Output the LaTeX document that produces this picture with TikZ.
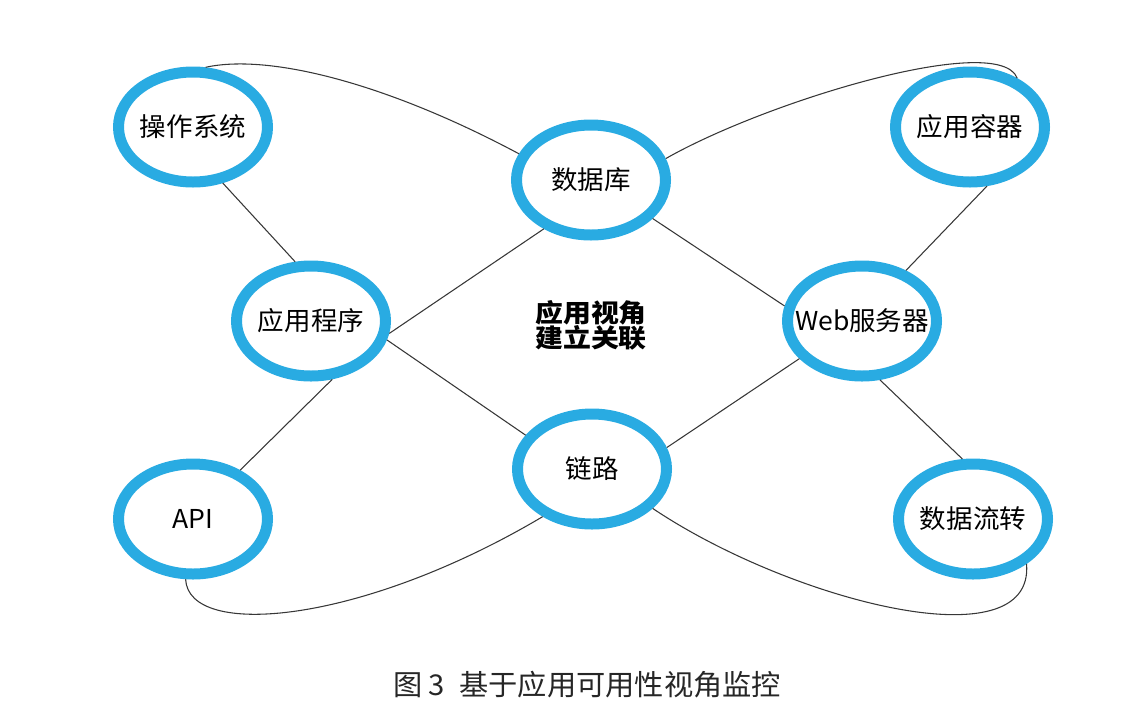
\documentclass[tikz,border=0pt]{standalone}
\usepackage{fontspec}
\usetikzlibrary{shapes.geometric}
\newfontfamily\cjk[FakeStretch=1.02]{Noto Sans CJK SC}
\newfontfamily\cjkwide[FakeStretch=1.1]{Noto Sans CJK SC}
\definecolor{ringblue}{RGB}{41,171,226}
\definecolor{wiregray}{RGB}{55,55,55}

\begin{document}
\begin{tikzpicture}[x=0.75pt, y=0.75pt,
    ringnode/.style={ellipse, draw=ringblue, line width=8.25pt, fill=white,
      minimum width=111.75pt, minimum height=82.5pt, inner sep=0pt, inner xsep=-14pt,
      font=\cjk\fontsize{19.5pt}{22pt}\selectfont},
    wire/.style={draw=wiregray, line width=0.8pt}]
    \useasboundingbox (0,0) rectangle (1124,-722);
    % Place nodes
    \node[ringnode] (os)   at (193,-127) {操作系统};
    \node[ringnode] (db)   at (591,-180) {数据库};
    \node[ringnode] (ac)   at (970,-127) {应用容器};
    \node[ringnode] (app)  at (311,-321) {应用程序};
    \node[ringnode] (web)  at (862,-321) {Web服务器};
    \node[ringnode] (link) at (592,-469) {链路};
    \node[ringnode] (api)  at (193,-519) {API};
    \node[ringnode] (flow) at (973,-519) {数据流转};
    \node[font=\cjkwide\bfseries\fontsize{19pt}{18.75pt}\selectfont, align=center] (mid) at (591,-325) {应用视角\\建立关联};
    \node[font=\cjk\fontsize{21.5pt}{24pt}\selectfont, text=black!85] (cap) at (587,-685) {图 3\enspace 基于应用可用性视角监控};
    % Create edges
    % Upper row
      \draw[wire] (os.78)  .. controls +(64,14) and +(-131,70) .. (db.160);
      \draw[wire] (db.16)  .. controls +(102,58) and +(-18,47) .. (ac.46);
      \draw[wire] (os.-62) -- (app.105);
      \draw[wire] (db.-32) -- (web.169);
      \draw[wire] (ac.-74) -- (web.49);
    % Middle
      \draw[wire] (app.-9)  -- (db.226);
      \draw[wire] (app.-14) -- (link.153);
      \draw[wire] (web.211) -- (link.16);
      \draw[wire] (app.-70) -- (api.46);
      \draw[wire] (web.-73) -- (flow.100);
    % Lower row
      \draw[wire] (api.263)  .. controls +(3,-60) and +(-182,-108) .. (link.224);
      \draw[wire] (link.-33) .. controls +(137,-92) and +(8,-100) .. (flow.-40);
\end{tikzpicture}
\end{document}
